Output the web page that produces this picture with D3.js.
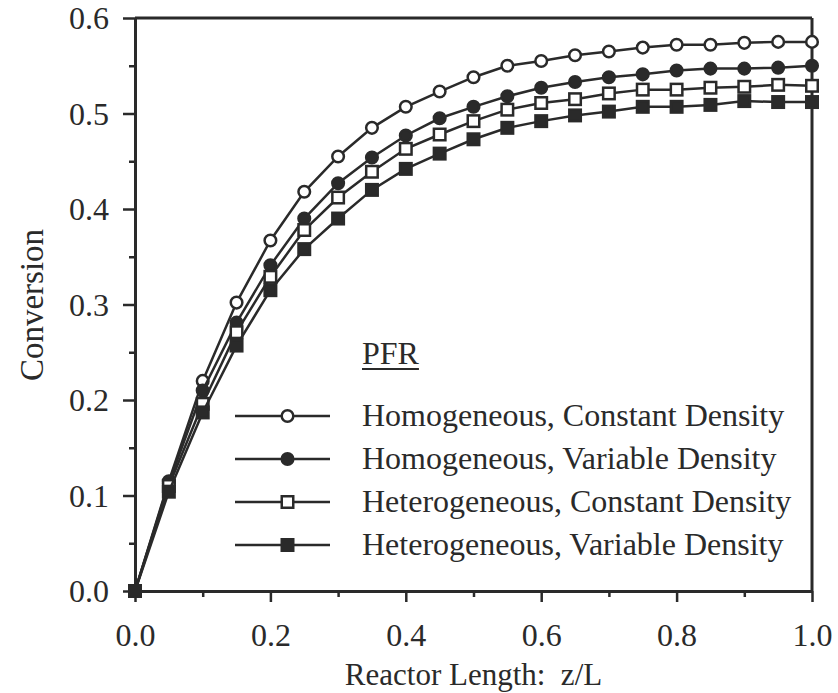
<!DOCTYPE html>
<html>
<head>
<meta charset="utf-8">
<script src="https://cdn.jsdelivr.net/npm/d3@7"></script>
<style>
  html, body { margin: 0; padding: 0; background: #fff; }
  svg { display: block; }
  text { font-family: "Liberation Serif", "Times New Roman", serif; fill: #2a2a2a; white-space: pre; }
</style>
</head>
<body>
<svg id="chart" width="838" height="693"></svg>
<script>
const zL = [0, 0.05, 0.10, 0.15, 0.20, 0.25, 0.30, 0.35, 0.40, 0.45, 0.50, 0.55, 0.60, 0.65, 0.70, 0.75, 0.80, 0.85, 0.90, 0.95, 1.00];
const homConst = [0, 0.115, 0.220, 0.302, 0.367, 0.418, 0.455, 0.485, 0.507, 0.523, 0.538, 0.550, 0.555, 0.561, 0.565, 0.569, 0.572, 0.572, 0.574, 0.575, 0.575];
const homVar   = [0, 0.113, 0.210, 0.281, 0.341, 0.390, 0.427, 0.454, 0.477, 0.495, 0.507, 0.518, 0.527, 0.533, 0.538, 0.541, 0.545, 0.547, 0.547, 0.548, 0.550];
const hetConst = [0, 0.110, 0.196, 0.271, 0.329, 0.378, 0.412, 0.439, 0.463, 0.478, 0.492, 0.504, 0.511, 0.515, 0.521, 0.525, 0.525, 0.527, 0.528, 0.530, 0.529];
const hetVar   = [0, 0.104, 0.187, 0.257, 0.315, 0.358, 0.390, 0.420, 0.442, 0.458, 0.473, 0.485, 0.492, 0.498, 0.502, 0.507, 0.507, 0.509, 0.513, 0.512, 0.512];
const seriesNames = ["Homogeneous, Constant Density", "Homogeneous, Variable Density", "Heterogeneous, Constant Density", "Heterogeneous, Variable Density"];
const seriesMarkers = ["openCircle", "filledCircle", "openSquare", "filledSquare"];
const xTicks = [0, 0.2, 0.4, 0.6, 0.8, 1.0];
const yTicks = [0, 0.1, 0.2, 0.3, 0.4, 0.5, 0.6];
const legendTitle = "PFR";
const xTitle = "Reactor Length:  z/L";
const yTitle = "Conversion";

const ink = "#2a2a2a";
const svg = d3.select("#chart");
const margin = {left: 135, right: 26, top: 18, bottom: 102};
const W = 838, H = 693;
const x = d3.scaleLinear().domain([0, 1]).range([margin.left, W - margin.right]);
const y = d3.scaleLinear().domain([0, 0.6]).range([H - margin.bottom, margin.top]);

const series = [homConst, homVar, hetConst, hetVar].map((vals, i) => ({
  name: seriesNames[i], marker: seriesMarkers[i],
  pts: zL.map((z, j) => [z, vals[j]])
}));

// frame top & right
svg.append("line").attr("x1", x(0)).attr("x2", x(1)).attr("y1", y(0.6)).attr("y2", y(0.6))
  .attr("stroke", ink).attr("stroke-width", 3);
svg.append("line").attr("x1", x(1)).attr("x2", x(1)).attr("y1", y(0.6)).attr("y2", y(0))
  .attr("stroke", ink).attr("stroke-width", 3);

// axes
const xAxis = d3.axisBottom(x).tickValues(d3.range(0, 1.0001, 0.1)).tickSize(0).tickFormat("");
const gx = svg.append("g").attr("transform", `translate(0,${y(0)})`).call(xAxis);
gx.select(".domain").attr("stroke", ink).attr("stroke-width", 3);
gx.selectAll(".tick line").remove();
gx.selectAll(".tick").append("line")
  .attr("y1", 0).attr("y2", d => (Math.round(d * 10) % 2 === 0) ? 11 : 6)
  .attr("stroke", ink).attr("stroke-width", 2.5);

const xLab = d3.axisBottom(x).tickValues(xTicks).tickSize(0).tickFormat(d3.format(".1f"));
const gxl = svg.append("g").attr("transform", `translate(0,${y(0)})`).call(xLab);
gxl.select(".domain").remove();
gxl.selectAll("text").attr("dy", 0).attr("y", 55).attr("font-size", 32)
  .style("font-family", '"Liberation Serif", serif').attr("fill", ink);

const yAxis = d3.axisLeft(y).tickValues(d3.range(0, 0.6001, 0.05)).tickSize(0).tickFormat("");
const gy = svg.append("g").attr("transform", `translate(${x(0)},0)`).call(yAxis);
gy.select(".domain").attr("stroke", ink).attr("stroke-width", 3);
gy.selectAll(".tick line").remove();
gy.selectAll(".tick").append("line")
  .attr("x1", 0).attr("x2", d => (Math.round(d * 20) % 2 === 0) ? -12 : -6)
  .attr("stroke", ink).attr("stroke-width", 2.5);

const yLab = d3.axisLeft(y).tickValues(yTicks).tickSize(0).tickFormat(d3.format(".1f"));
const gyl = svg.append("g").attr("transform", `translate(${x(0)},0)`).call(yLab);
gyl.select(".domain").remove();
gyl.selectAll("text").attr("x", -26).attr("dy", "0.34em").attr("font-size", 32)
  .style("font-family", '"Liberation Serif", serif').attr("fill", ink);

// titles
svg.append("text").attr("x", (x(0) + x(1)) / 2).attr("y", 685).attr("text-anchor", "middle")
  .attr("font-size", 31).text(xTitle);
svg.append("text").attr("transform", `translate(43,305) rotate(-90)`)
  .attr("text-anchor", "middle").attr("font-size", 33).text(yTitle);

// markers
function drawMarker(g, type, cx, cy) {
  const r = 5.8, s = 11.5;
  if (type === "openCircle" || type === "filledCircle") {
    g.append("circle").attr("cx", cx).attr("cy", cy).attr("r", r)
      .attr("fill", type === "openCircle" ? "#fff" : ink).attr("stroke", ink).attr("stroke-width", 2.5);
  } else {
    g.append("rect").attr("x", cx - s / 2).attr("y", cy - s / 2).attr("width", s).attr("height", s)
      .attr("fill", type === "openSquare" ? "#fff" : ink).attr("stroke", ink).attr("stroke-width", 2.5);
  }
}

const line = d3.line().x(d => x(d[0])).y(d => y(d[1]));
series.forEach(s => {
  const g = svg.append("g");
  g.append("path").datum(s.pts).attr("d", line).attr("fill", "none")
    .attr("stroke", ink).attr("stroke-width", 2.5);
  s.pts.forEach(p => drawMarker(g, s.marker, x(p[0]), y(p[1])));
});

// legend
const lg = svg.append("g");
const legX0 = 235, legX1 = 330, legTextX = 362;
const legY = [416, 459, 502, 545];
const pfr = lg.append("text").attr("x", legTextX).attr("y", 364).attr("font-size", 32).text(legendTitle);
const pfrW = pfr.node().getComputedTextLength();
lg.append("line").attr("x1", legTextX).attr("x2", legTextX + pfrW).attr("y1", 369).attr("y2", 369)
  .attr("stroke", ink).attr("stroke-width", 2);
series.forEach((s, i) => {
  lg.append("line").attr("x1", legX0).attr("x2", legX1).attr("y1", legY[i]).attr("y2", legY[i])
    .attr("stroke", ink).attr("stroke-width", 2.5);
  drawMarker(lg, s.marker, (legX0 + legX1) / 2 + 5, legY[i]);
  lg.append("text").attr("x", legTextX).attr("y", legY[i] + 10).attr("font-size", 32).text(s.name);
});
</script>
</body>
</html>
